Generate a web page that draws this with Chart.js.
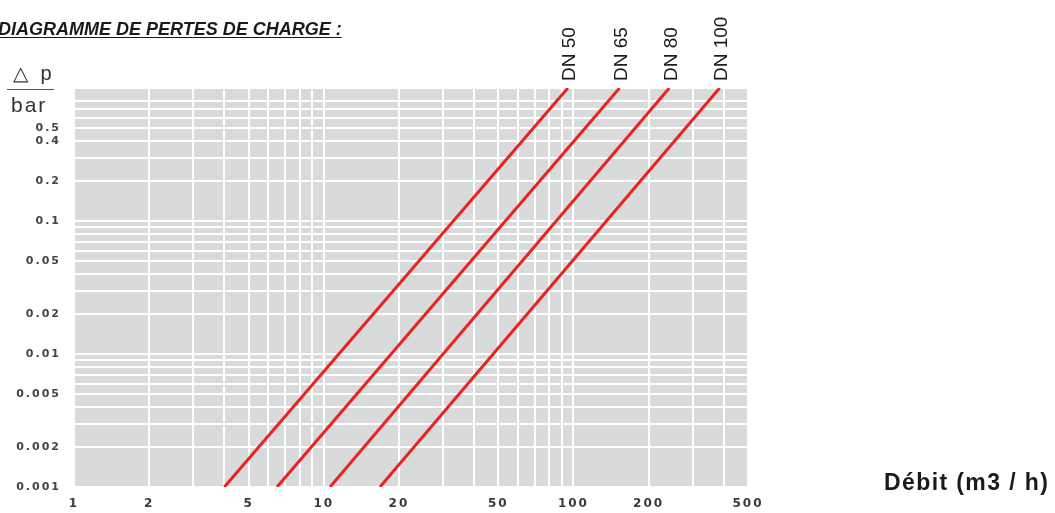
<!DOCTYPE html>
<html>
<head>
<meta charset="utf-8">
<script src="https://cdn.jsdelivr.net/npm/chart.js@4"></script>
<style>
  body { margin: 0; background: #fff; }
  #wrap { position: relative; width: 1055px; height: 513px; overflow: hidden; }
  #wrap canvas { position: absolute; left: 0; top: 0; }
  .txt { position: absolute; font-family: "Liberation Sans", Arial, sans-serif; color: #1a1a1a; white-space: nowrap; }
  #title { left: -2px; top: 19px; font-size: 18px; font-weight: bold; font-style: italic; text-decoration: underline; text-underline-offset: 2px; }
  #dp { left: 13px; top: 61px; font-size: 20px; color: #333; word-spacing: 7px; }
  #bar { left: 11px; top: 93px; font-size: 21px; color: #333; letter-spacing: 2px; }
  #frac { position: absolute; left: 7px; top: 89px; width: 47px; height: 0; border-top: 1.5px solid #555; }
  #flow { left: 884px; top: 469px; font-size: 23px; font-weight: bold; letter-spacing: 1.4px; }
</style>
</head>
<body>
<div id="wrap">
  <canvas id="chart"></canvas>
  <div class="txt" id="title">DIAGRAMME DE PERTES DE CHARGE :</div>
  <div class="txt" id="dp">△ p</div>
  <div id="frac"></div>
  <div class="txt" id="bar">bar</div>
  <div class="txt" id="flow">Débit (m3 / h)</div>
</div>
<script>
// pressure drop lines
const seriesNames = ['DN 50', 'DN 65', 'DN 80', 'DN 100'];
const dropRange = [0.001, 1];                 // bar, bottom and top of each line
const flowAtMinDrop = [4, 6.5, 10.6, 16.8];   // m3/h where the line leaves 0.001 bar
const flowAtMaxDrop = [95, 153, 242, 385];    // m3/h where the line reaches 1 bar

// axes
const xGrid = [1, 2, 3, 4, 5, 6, 7, 8, 9, 10, 20, 30, 40, 50, 60, 70, 80, 90, 100, 200, 300, 400, 500];
const yGrid = [0.001, 0.002, 0.003, 0.004, 0.005, 0.006, 0.007, 0.008, 0.009,
               0.01, 0.02, 0.03, 0.04, 0.05, 0.06, 0.07, 0.08, 0.09,
               0.1, 0.2, 0.3, 0.4, 0.5, 0.6, 0.7, 0.8, 1];
const xTickLabels = [1, 2, 5, 10, 20, 50, 100, 200, 500];
const yTickLabels = [0.001, 0.002, 0.005, 0.01, 0.02, 0.05, 0.1, 0.2, 0.4, 0.5];

const plotBg = {
  id: 'plotBg',
  beforeDraw(chart) {
    const { ctx, chartArea: a } = chart;
    ctx.save();
    ctx.fillStyle = '#d9dadc';
    ctx.fillRect(a.left, a.top, a.right - a.left, a.bottom - a.top);
    ctx.restore();
    // wide-set tick digits like the original print
    ctx.letterSpacing = '2px';
  },
  afterDraw(chart) {
    chart.ctx.letterSpacing = '0px';
  }
};

const lineLabels = {
  id: 'lineLabels',
  afterDraw(chart) {
    const ctx = chart.ctx;
    ctx.save();
    ctx.letterSpacing = '0px';
    ctx.font = '19px "Liberation Sans", Arial, sans-serif';
    ctx.fillStyle = '#1a1a1a';
    ctx.textAlign = 'left';
    ctx.textBaseline = 'middle';
    chart.data.datasets.forEach((ds, i) => {
      const pts = chart.getDatasetMeta(i).data;
      const top = pts[pts.length - 1];
      ctx.save();
      ctx.translate(top.x + 2, chart.chartArea.top - 7);
      ctx.rotate(-Math.PI / 2);
      ctx.fillText(ds.label, 0, 0);
      ctx.restore();
    });
    ctx.restore();
  }
};

new Chart(document.getElementById('chart'), {
  type: 'line',
  data: {
    datasets: seriesNames.map((name, i) => ({
      label: name,
      data: [
        { x: flowAtMinDrop[i], y: dropRange[0] },
        { x: flowAtMaxDrop[i], y: dropRange[1] }
      ],
      borderColor: '#e8241e',
      borderWidth: 3,
      pointRadius: 0,
      tension: 0
    }))
  },
  options: {
    responsive: true,
    maintainAspectRatio: false,
    animation: false,
    layout: {
      padding: { left: 0, right: 307, top: 88, bottom: 0 }
    },
    scales: {
      x: {
        type: 'logarithmic',
        min: 1,
        max: 500,
        afterBuildTicks: (scale) => { scale.ticks = xGrid.map((v) => ({ value: v })); },
        afterFit: (scale) => { scale.height = 26; },
        grid: { color: '#ffffff', lineWidth: 2, drawTicks: false },
        border: { display: false },
        ticks: {
          autoSkip: false,
          maxRotation: 0,
          padding: 10,
          color: '#3a3a3a',
          font: { family: 'DejaVu Sans', size: 12, weight: 'bold' },
          callback: (v) => xTickLabels.includes(v) ? String(v) : ''
        }
      },
      y: {
        type: 'logarithmic',
        min: 0.001,
        max: 1,
        afterBuildTicks: (scale) => { scale.ticks = yGrid.map((v) => ({ value: v })); },
        afterFit: (scale) => { scale.width = 74; },
        grid: { color: '#ffffff', lineWidth: 2, drawTicks: false },
        border: { display: false },
        ticks: {
          autoSkip: false,
          padding: 13,
          color: '#444444',
          font: { family: 'DejaVu Sans', size: 11, weight: 'bold' },
          callback: (v) => yTickLabels.includes(v) ? String(v) : ''
        }
      }
    },
    plugins: {
      legend: { display: false },
      tooltip: { enabled: false }
    }
  },
  plugins: [plotBg, lineLabels]
});
</script>
</body>
</html>
